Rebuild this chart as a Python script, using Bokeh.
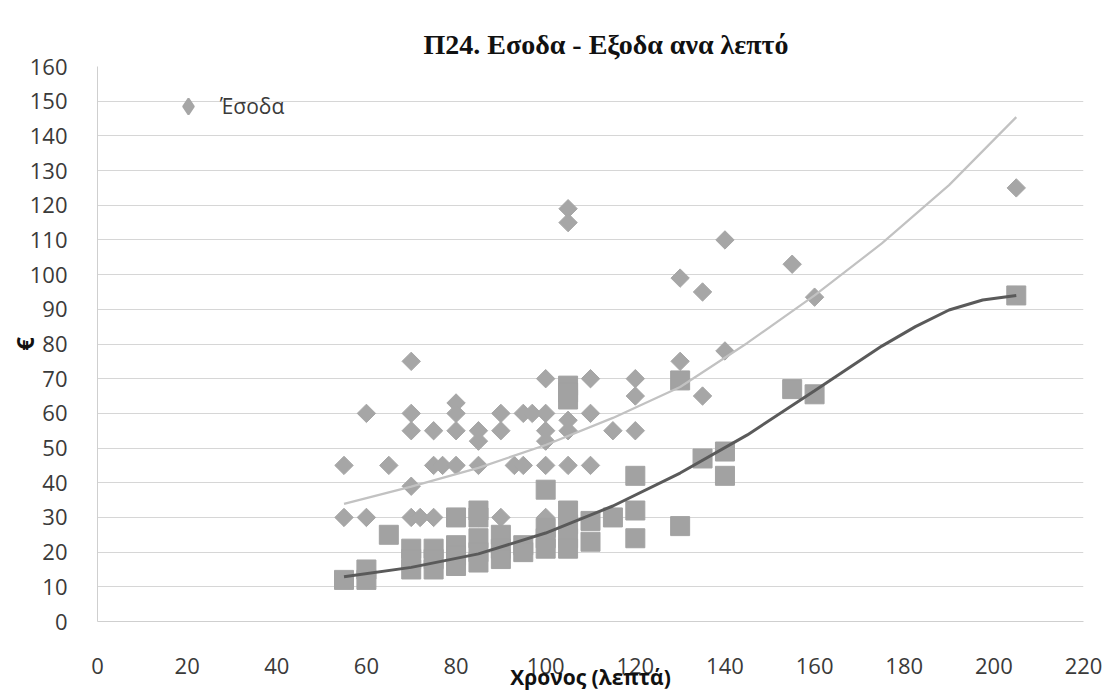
import math
from bokeh.plotting import figure
from bokeh.models import Range1d, FixedTicker, Legend, LegendItem
from bokeh.embed import file_html
from bokeh.resources import INLINE

# ---- data ----
income_x = [55, 55, 60, 60, 65, 70, 70, 70, 70, 70, 72, 75, 75, 75, 77, 80, 80, 80, 80,
            85, 85, 85, 85, 90, 90, 90, 93, 95, 95, 97, 100, 100, 100, 100, 100, 100,
            105, 105, 105, 105, 105, 110, 110, 110, 115, 120, 120, 120, 130, 130,
            135, 135, 140, 140, 155, 160, 205]
income_y = [45, 30, 60, 30, 45, 75, 60, 55, 39, 30, 30, 55, 45, 30, 45, 63, 60, 55, 45,
            55, 52, 45, 30, 60, 55, 30, 45, 60, 45, 60, 70, 60, 55, 52, 45, 30,
            119, 115, 58, 55, 45, 70, 60, 45, 55, 70, 65, 55, 99, 75,
            95, 65, 110, 78, 103, 93.5, 125]

expense_x = [55, 60, 60, 65, 70, 70, 70, 75, 75, 75, 80, 80, 80, 80, 85, 85, 85, 85, 85,
             90, 90, 90, 95, 95, 100, 100, 100, 100, 105, 105, 105, 105, 105, 105, 105,
             110, 110, 115, 120, 120, 120, 130, 130, 135, 140, 140, 155, 160, 205]
expense_y = [12, 15, 12, 25, 21, 18, 15, 21, 18, 15, 30, 22, 19, 16, 32, 30, 24, 20, 17,
             25, 21, 18, 22, 20, 38, 27, 24, 21, 68, 66, 64, 32, 28, 24, 21,
             29, 23, 30, 42, 32, 24, 69.5, 27.5, 47, 49, 42, 67, 65.5, 94]

# trend lines
income_trend_x = [55, 70, 85, 100, 115, 130, 145, 160, 175, 190, 205]
income_trend_y = [33.9, 38.9, 44.3, 50.9, 58.7, 67.6, 80.3, 94.0, 109.0, 125.8, 145.4]
expense_trend_x = [55, 70, 85, 100, 115, 130, 145, 160, 175, 182.5, 190, 197.5, 205]
expense_trend_y = [12.9, 15.6, 19.5, 25.5, 33.3, 42.8, 53.8, 66.5, 79.4, 85.0, 89.8, 92.7, 94.0]

x_ticks = [0, 20, 40, 60, 80, 100, 120, 140, 160, 180, 200, 220]
y_ticks = [0, 10, 20, 30, 40, 50, 60, 70, 80, 90, 100, 110, 120, 130, 140, 150, 160]

title_text = "Π24. Εσοδα - Εξοδα ανα λεπτό"
x_label = "Χρονος (λεπτά)"
y_label = "€"
legend_label = "Έσοδα"

FONT = "Open Sans"
W, H = 1118, 696
L, R, T, B = 97, 1083, 66, 621

p = figure(width=W, height=H, output_backend="svg", toolbar_location=None,
           x_range=Range1d(0, 220), y_range=Range1d(0, 160),
           min_border_left=L, min_border_right=W - R,
           min_border_top=T, min_border_bottom=H - B)
p.background_fill_color = "white"
p.border_fill_color = "white"
p.outline_line_color = None
p.stylesheets = [":host { outline: 1px solid #d6d6d6; outline-offset: -4px; }"]

p.title.text = title_text
p.title.align = "left"
p.title.offset = 326
p.title.standoff = 13
p.title.text_font = "Liberation Serif"
p.title.text_font_style = "bold"
p.title.text_font_size = "28px"
p.title.text_color = "#111111"

p.xaxis.ticker = FixedTicker(ticks=x_ticks)
p.yaxis.ticker = FixedTicker(ticks=y_ticks)
p.xgrid.grid_line_color = None
p.ygrid.grid_line_color = "#d6d6d6"
p.ygrid.grid_line_width = 1

for ax in (p.xaxis, p.yaxis):
    ax.major_tick_line_color = None
    ax.minor_tick_line_color = None
    ax.axis_line_color = "#cfcfcf"
    ax.major_label_text_font = FONT
    ax.major_label_text_font_size = "22px"
    ax.major_label_text_color = "#3a3a3a"
    ax.axis_label_text_font = FONT
    ax.axis_label_text_font_style = "bold"
    ax.axis_label_text_color = "#111111"
p.xaxis.major_label_standoff = 30
p.yaxis.major_label_standoff = 24
p.xaxis.axis_label = x_label
p.xaxis.axis_label_text_font_size = "21px"
p.xaxis.axis_label_standoff = -14
p.yaxis.axis_label = y_label
p.yaxis.axis_label_text_font_size = "24px"
p.yaxis.axis_label_standoff = -14

inc = p.scatter(income_x, income_y, marker="square", angle=math.pi / 4, size=13,
                fill_color="#a6a6a6", line_color="#a6a6a6")
p.scatter(expense_x, expense_y, marker="square", size=19,
          fill_color="#a2a2a2", line_color="#a2a2a2")
p.line(income_trend_x, income_trend_y, line_color="#c2c2c2", line_width=2.2)
p.line(expense_trend_x, expense_trend_y, line_color="#5a5a5a", line_width=3)

# legend swatch: a hidden diamond glyph that only serves the legend
swatch = p.scatter(income_x[:1], income_y[:1], marker="diamond", fill_color="#a6a6a6",
                   line_color="#a6a6a6", line_width=2, visible=False)

legend = Legend(items=[LegendItem(label=legend_label, renderers=[swatch])],
                location=(71, 495), orientation="vertical",
                background_fill_alpha=0, border_line_color=None,
                padding=0, margin=0, glyph_width=40, glyph_height=40,
                label_standoff=12, label_text_font=FONT,
                label_text_font_size="21px", label_text_color="#3a3a3a",
                inactive_fill_alpha=0)
p.add_layout(legend)

open("out.html", "w").write(file_html(p, INLINE))
